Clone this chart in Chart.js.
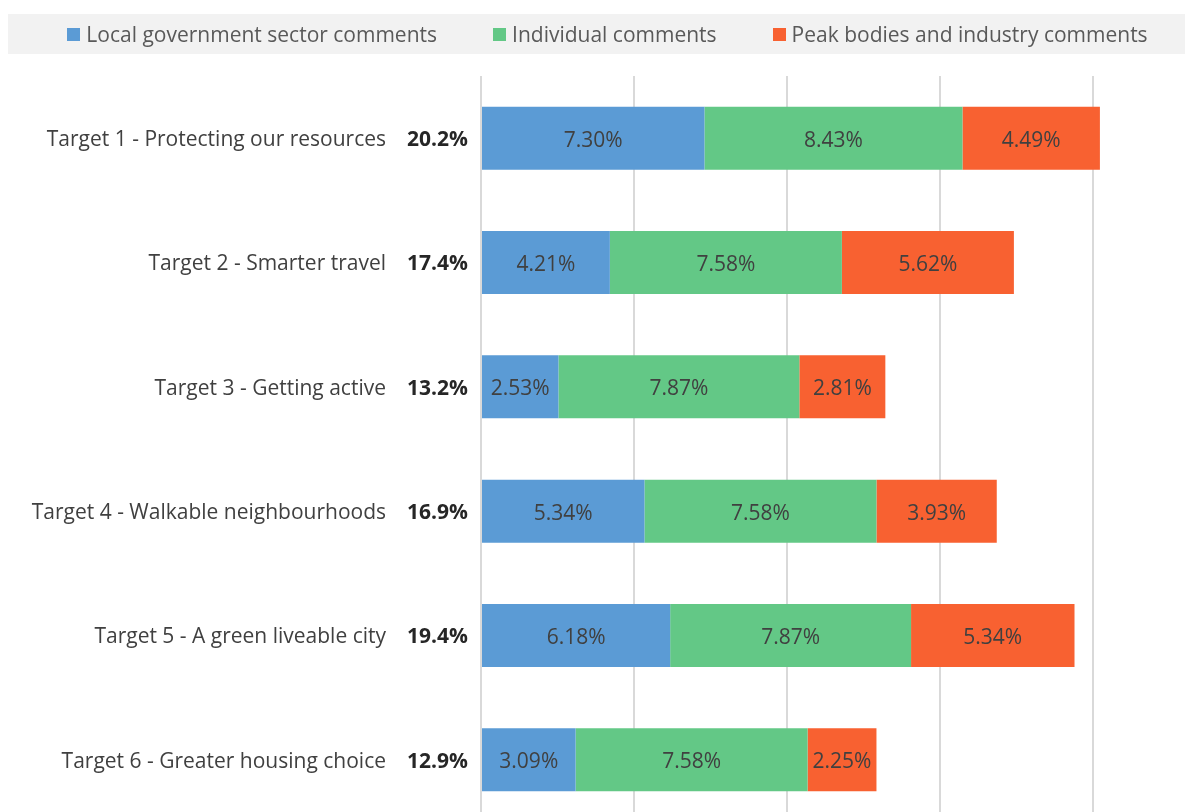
<!DOCTYPE html>
<html><head><meta charset="utf-8">
<script src="https://cdn.jsdelivr.net/npm/chart.js@4/dist/chart.umd.min.js"></script>
<style>
html,body{margin:0;padding:0;background:#fff;overflow:hidden;}
#wrap{position:relative;width:1185px;height:822px;}
canvas{display:block;}
</style></head><body>
<div id="wrap"><canvas id="c" width="1185" height="822"></canvas></div>
<script>
const categories = [
  'Target 1 - Protecting our resources',
  'Target 2 - Smarter travel',
  'Target 3 - Getting active',
  'Target 4 - Walkable neighbourhoods',
  'Target 5 - A green liveable city',
  'Target 6 - Greater housing choice'
];
const totals = [20.2, 17.4, 13.2, 16.9, 19.4, 12.9];
const localGov = [7.30, 4.21, 2.53, 5.34, 6.18, 3.09];
const individual = [8.43, 7.58, 7.87, 7.58, 7.87, 7.58];
const peak = [4.49, 5.62, 2.81, 3.93, 5.34, 2.25];
const seriesNames = ['Local government sector comments', 'Individual comments', 'Peak bodies and industry comments'];
const xTicks = [0, 5, 10, 15, 20];

const FONT = '"Open Sans", "DejaVu Sans", sans-serif';
const colors = ['#5B9BD5', '#63C886', '#F86131'];

const legendPlugin = {
  id: 'boxLegend',
  afterDraw(chart) {
    const ctx = chart.ctx;
    ctx.save();
    ctx.fillStyle = '#F2F2F2';
    ctx.fillRect(8, 14, chart.width - 8, 40);
    ctx.font = '21px ' + FONT;
    ctx.textBaseline = 'middle';
    const box = 13, gapTxt = 6, gapItem = 56;
    const items = chart.data.datasets.map(d => ({label: d.label, color: d.backgroundColor, w: ctx.measureText(d.label).width}));
    let total = items.reduce((s, it) => s + box + gapTxt + it.w, 0) + gapItem * (items.length - 1);
    let x = 607.5 - total / 2;
    const cy = 34;
    items.forEach(it => {
      ctx.fillStyle = it.color;
      ctx.fillRect(Math.round(x), cy - 6, box, box);
      x += box + gapTxt;
      ctx.fillStyle = '#595959';
      ctx.textAlign = 'left';
      ctx.fillText(it.label, x, cy + 2);
      x += it.w + gapItem;
    });
    ctx.restore();
  }
};

const labelPlugin = {
  id: 'barLabels',
  afterDatasetsDraw(chart) {
    const ctx = chart.ctx;
    ctx.save();
    ctx.font = '21px ' + FONT;
    ctx.fillStyle = '#404040';
    ctx.textAlign = 'center';
    ctx.textBaseline = 'middle';
    chart.data.datasets.forEach((ds, di) => {
      const meta = chart.getDatasetMeta(di);
      meta.data.forEach((bar, i) => {
        const left = Math.min(bar.x, bar.base), right = Math.max(bar.x, bar.base);
        ctx.fillText(ds.data[i].toFixed(2) + '%', (left + right) / 2, bar.y + 2.5);
      });
    });
    const yScale = chart.scales.y;
    ctx.font = 'bold 21px ' + FONT;
    ctx.fillStyle = '#262626';
    ctx.textAlign = 'right';
    totals.forEach((t, i) => {
      ctx.fillText(t.toFixed(1) + '%', chart.chartArea.left - 13, yScale.getPixelForValue(i) + 2);
    });
    ctx.restore();
  }
};

new Chart(document.getElementById('c'), {
  type: 'bar',
  data: {
    labels: categories,
    datasets: [
      {label: seriesNames[0], data: localGov, backgroundColor: colors[0]},
      {label: seriesNames[1], data: individual, backgroundColor: colors[1]},
      {label: seriesNames[2], data: peak, backgroundColor: colors[2]}
    ]
  },
  options: {
    indexAxis: 'y',
    responsive: false,
    animation: false,
    layout: {padding: {top: 76, left: 0, right: 0, bottom: 0}},
    datasets: {bar: {categoryPercentage: 0.507, barPercentage: 1, borderWidth: 0}},
    plugins: {legend: {display: false}, tooltip: {enabled: false}},
    scales: {
      x: {
        type: 'linear', stacked: true, min: 0, max: 23,
        afterBuildTicks: s => { s.ticks = xTicks.map(v => ({value: v})); },
        ticks: {display: false},
        grid: {color: '#D9D9D9', lineWidth: 2, drawTicks: false},
        border: {display: false}
      },
      y: {
        stacked: true,
        afterFit: s => { s.width = 481; s.paddingTop = 0; s.paddingBottom = 0; },
        grid: {display: false, drawTicks: false},
        border: {display: false},
        ticks: {color: '#404040', font: {family: FONT, size: 21}, padding: 95, labelOffset: 2}
      }
    }
  },
  plugins: [legendPlugin, labelPlugin]
});
</script>
</body></html>
